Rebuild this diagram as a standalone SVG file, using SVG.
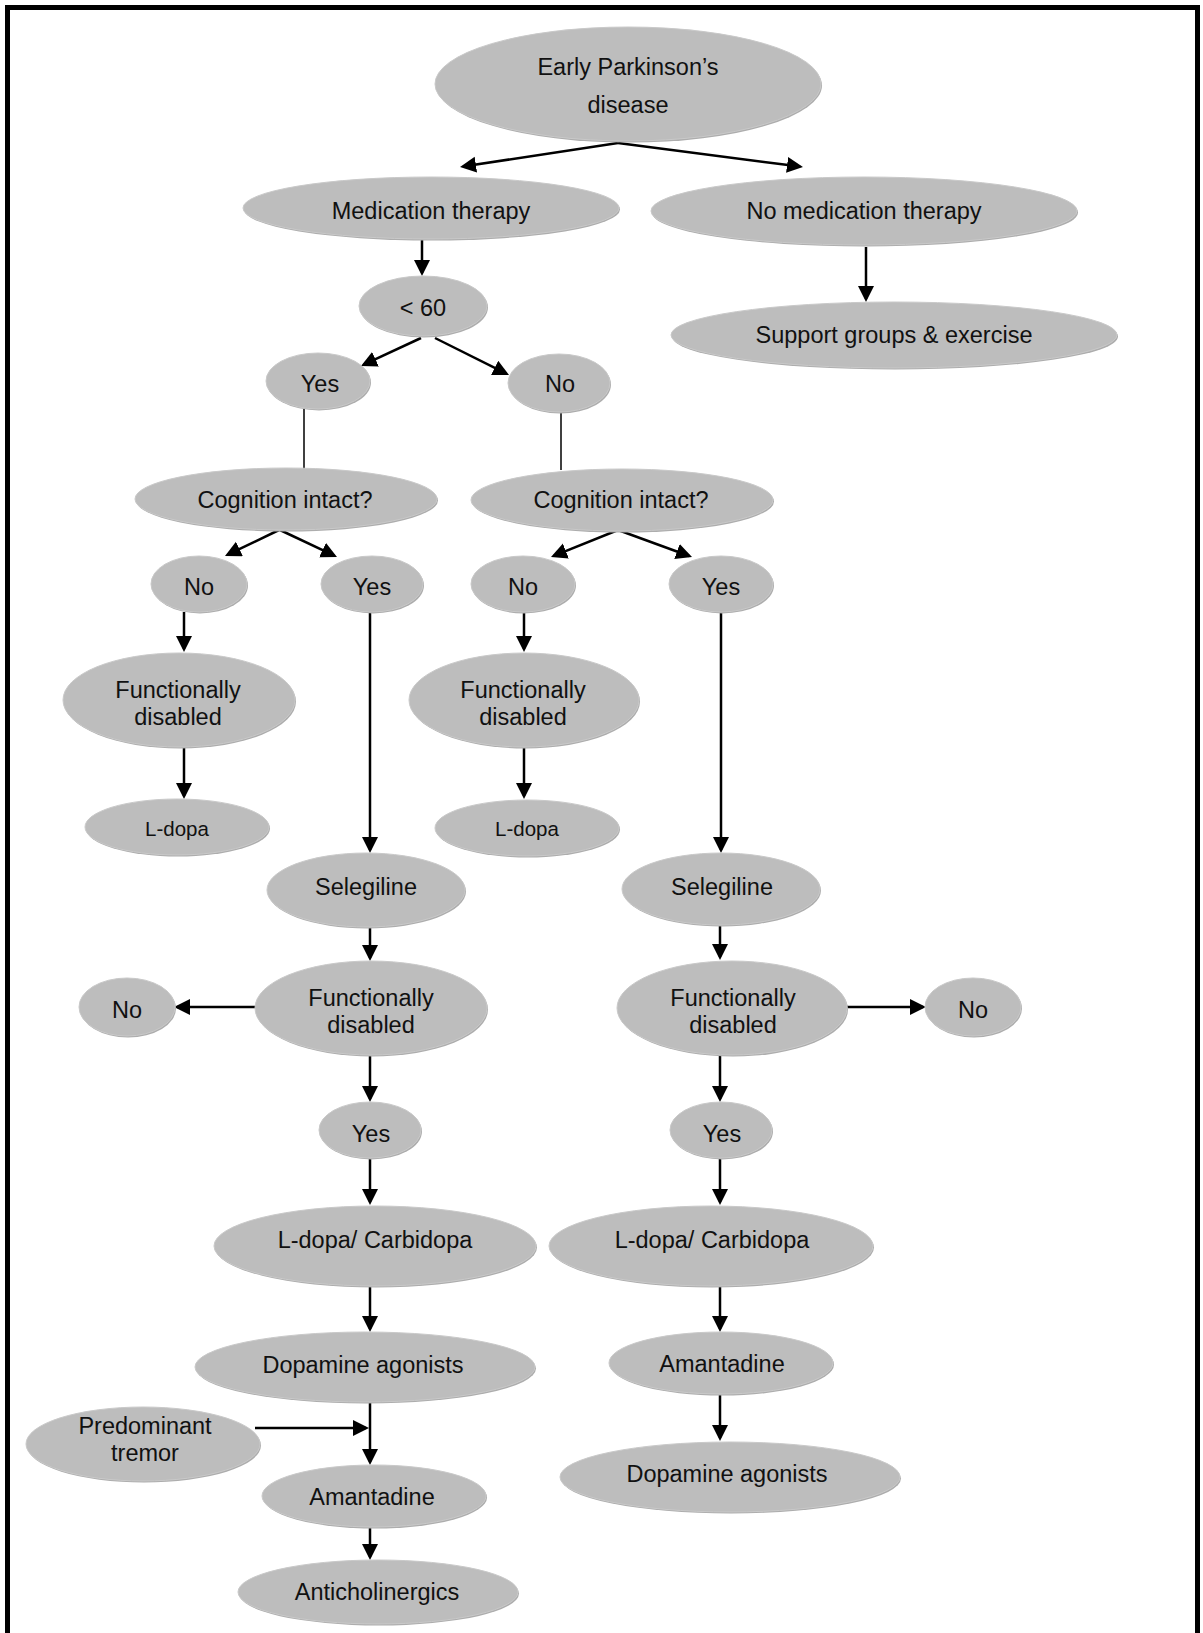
<svg xmlns="http://www.w3.org/2000/svg" width="1203" height="1633" viewBox="0 0 1203 1633">
<defs>
<style>
.sh{fill:#adadad}
.nd{fill:#bdbdbd;stroke:#c9c9c9;stroke-width:1}
text{font-family:"Liberation Sans",Arial,sans-serif;font-size:23.5px;fill:#111;text-anchor:middle}
text.sm{font-size:20.5px}
.c{fill:none;stroke:#000;stroke-width:2.5;marker-end:url(#ah)}
.t{fill:none;stroke:#000;stroke-width:1.5}
</style>
<marker id="ah" markerUnits="userSpaceOnUse" markerWidth="17" markerHeight="17" refX="13" refY="8" orient="auto">
<path d="M0,0 L16,8 L0,16 z" fill="#000"/>
</marker>
</defs>
<rect x="0" y="0" width="1203" height="1633" fill="#fff"/>
<rect x="7.5" y="7.5" width="1190" height="1650" fill="none" stroke="#000" stroke-width="5"/>

<g id="connectors">
<path class="c" d="M618,143 L463,166.5"/>
<path class="c" d="M618,143 L800,166.6"/>
<path class="c" d="M422,239 L422,273"/>
<path class="c" d="M866,247 L866,299"/>
<path class="c" d="M421,338 L363.7,364.7"/>
<path class="c" d="M435,338 L506.3,373.7"/>
<path class="t" d="M304,409 L304,469"/>
<path class="t" d="M561,412 L561,470"/>
<path class="c" d="M279,530 L227.7,554.7"/>
<path class="c" d="M280,530 L334.3,555.7"/>
<path class="c" d="M618,530 L553.8,555.9"/>
<path class="c" d="M618,530 L689.2,556"/>
<path class="c" d="M184,612 L184,649"/>
<path class="c" d="M524,612 L524,649"/>
<path class="c" d="M370,612 L370,850"/>
<path class="c" d="M721,613 L721,850"/>
<path class="c" d="M184,747 L184,796"/>
<path class="c" d="M524,747 L524,796"/>
<path class="c" d="M370,927 L370,958"/>
<path class="c" d="M720,925 L720,957"/>
<path class="c" d="M257,1007 L177,1007"/>
<path class="c" d="M847,1007 L923,1007"/>
<path class="c" d="M370,1055 L370,1099"/>
<path class="c" d="M720,1055 L720,1099"/>
<path class="c" d="M370,1158 L370,1202"/>
<path class="c" d="M720,1157 L720,1202"/>
<path class="c" d="M370,1287 L370,1329"/>
<path class="c" d="M720,1286 L720,1329"/>
<path class="c" d="M370,1402 L370,1462"/>
<path class="c" d="M720,1394 L720,1438"/>
<path class="c" d="M255,1428 L366,1428"/>
<path class="c" d="M370,1527 L370,1557"/>
</g>

<g id="n1"><ellipse class="sh" cx="629" cy="85.5" rx="193" ry="57"/><ellipse class="nd" cx="628" cy="84" rx="193" ry="57"/><text x="628" y="75">Early Parkinson’s</text><text x="628" y="113">disease</text></g>
<g id="n2"><ellipse class="sh" cx="432" cy="209.5" rx="188" ry="31"/><ellipse class="nd" cx="431" cy="208" rx="188" ry="31"/><text x="431" y="219">Medication therapy</text></g>
<g id="n3"><ellipse class="sh" cx="865" cy="212.5" rx="213" ry="34"/><ellipse class="nd" cx="864" cy="211" rx="213" ry="34"/><text x="864" y="219">No medication therapy</text></g>
<g id="n4"><ellipse class="sh" cx="895" cy="336.5" rx="223" ry="33"/><ellipse class="nd" cx="894" cy="335" rx="223" ry="33"/><text x="894" y="343">Support groups &amp; exercise</text></g>
<g id="n5"><ellipse class="sh" cx="424" cy="307.5" rx="64" ry="30"/><ellipse class="nd" cx="423" cy="306" rx="64" ry="30"/><text x="423" y="316">&lt; 60</text></g>
<g id="n6"><ellipse class="sh" cx="319" cy="382.5" rx="52" ry="28"/><ellipse class="nd" cx="318" cy="381" rx="52" ry="28"/><text x="320" y="392">Yes</text></g>
<g id="n7"><ellipse class="sh" cx="560" cy="384.5" rx="51" ry="29"/><ellipse class="nd" cx="559" cy="383" rx="51" ry="29"/><text x="560" y="392">No</text></g>
<g id="n8"><ellipse class="sh" cx="287" cy="500.5" rx="151" ry="31"/><ellipse class="nd" cx="286" cy="499" rx="151" ry="31"/><text x="285" y="508">Cognition intact?</text></g>
<g id="n9"><ellipse class="sh" cx="623" cy="501.5" rx="151" ry="31"/><ellipse class="nd" cx="622" cy="500" rx="151" ry="31"/><text x="621" y="508">Cognition intact?</text></g>
<g id="n10"><ellipse class="sh" cx="200" cy="585.5" rx="48" ry="28"/><ellipse class="nd" cx="199" cy="584" rx="48" ry="28"/><text x="199" y="595">No</text></g>
<g id="n11"><ellipse class="sh" cx="373" cy="585.5" rx="51" ry="28"/><ellipse class="nd" cx="372" cy="584" rx="51" ry="28"/><text x="372" y="595">Yes</text></g>
<g id="n12"><ellipse class="sh" cx="524" cy="585.5" rx="52" ry="28"/><ellipse class="nd" cx="523" cy="584" rx="52" ry="28"/><text x="523" y="595">No</text></g>
<g id="n13"><ellipse class="sh" cx="722" cy="585.5" rx="52" ry="28"/><ellipse class="nd" cx="721" cy="584" rx="52" ry="28"/><text x="721" y="595">Yes</text></g>
<g id="n14"><ellipse class="sh" cx="180" cy="701.5" rx="116" ry="47"/><ellipse class="nd" cx="179" cy="700" rx="116" ry="47"/><text x="178" y="698">Functionally</text><text x="178" y="725">disabled</text></g>
<g id="n15"><ellipse class="sh" cx="525" cy="701.5" rx="115" ry="47"/><ellipse class="nd" cx="524" cy="700" rx="115" ry="47"/><text x="523" y="698">Functionally</text><text x="523" y="725">disabled</text></g>
<g id="n16"><ellipse class="sh" cx="178" cy="828.5" rx="92" ry="28"/><ellipse class="nd" cx="177" cy="827" rx="92" ry="28"/><text class="sm" x="177" y="836">L-dopa</text></g>
<g id="n17"><ellipse class="sh" cx="528" cy="829.5" rx="92" ry="28"/><ellipse class="nd" cx="527" cy="828" rx="92" ry="28"/><text class="sm" x="527" y="836">L-dopa</text></g>
<g id="n18"><ellipse class="sh" cx="367" cy="891.5" rx="99" ry="37"/><ellipse class="nd" cx="366" cy="890" rx="99" ry="37"/><text x="366" y="895">Selegiline</text></g>
<g id="n19"><ellipse class="sh" cx="722" cy="890.5" rx="99" ry="36"/><ellipse class="nd" cx="721" cy="889" rx="99" ry="36"/><text x="722" y="895">Selegiline</text></g>
<g id="n20"><ellipse class="sh" cx="372" cy="1009.5" rx="116" ry="47"/><ellipse class="nd" cx="371" cy="1008" rx="116" ry="47"/><text x="371" y="1006">Functionally</text><text x="371" y="1033">disabled</text></g>
<g id="n21"><ellipse class="sh" cx="733" cy="1009.5" rx="115" ry="47"/><ellipse class="nd" cx="732" cy="1008" rx="115" ry="47"/><text x="733" y="1006">Functionally</text><text x="733" y="1033">disabled</text></g>
<g id="n22"><ellipse class="sh" cx="128" cy="1008.5" rx="48" ry="29"/><ellipse class="nd" cx="127" cy="1007" rx="48" ry="29"/><text x="127" y="1018">No</text></g>
<g id="n23"><ellipse class="sh" cx="974" cy="1008.5" rx="48" ry="29"/><ellipse class="nd" cx="973" cy="1007" rx="48" ry="29"/><text x="973" y="1018">No</text></g>
<g id="n24"><ellipse class="sh" cx="371" cy="1131.5" rx="51" ry="28"/><ellipse class="nd" cx="370" cy="1130" rx="51" ry="28"/><text x="371" y="1142">Yes</text></g>
<g id="n25"><ellipse class="sh" cx="722" cy="1131.5" rx="51" ry="28"/><ellipse class="nd" cx="721" cy="1130" rx="51" ry="28"/><text x="722" y="1142">Yes</text></g>
<g id="n26"><ellipse class="sh" cx="376" cy="1247.5" rx="161" ry="40"/><ellipse class="nd" cx="375" cy="1246" rx="161" ry="40"/><text x="375" y="1248">L-dopa/ Carbidopa</text></g>
<g id="n27"><ellipse class="sh" cx="712" cy="1247.5" rx="162" ry="40"/><ellipse class="nd" cx="711" cy="1246" rx="162" ry="40"/><text x="712" y="1248">L-dopa/ Carbidopa</text></g>
<g id="n28"><ellipse class="sh" cx="366" cy="1368.5" rx="170" ry="35"/><ellipse class="nd" cx="365" cy="1367" rx="170" ry="35"/><text x="363" y="1373">Dopamine agonists</text></g>
<g id="n29"><ellipse class="sh" cx="722" cy="1364.5" rx="112" ry="31"/><ellipse class="nd" cx="721" cy="1363" rx="112" ry="31"/><text x="722" y="1372">Amantadine</text></g>
<g id="n30"><ellipse class="sh" cx="731" cy="1478.5" rx="170" ry="35"/><ellipse class="nd" cx="730" cy="1477" rx="170" ry="35"/><text x="727" y="1482">Dopamine agonists</text></g>
<g id="n31"><ellipse class="sh" cx="144" cy="1445.5" rx="117" ry="37"/><ellipse class="nd" cx="143" cy="1444" rx="117" ry="37"/><text x="145" y="1434">Predominant</text><text x="145" y="1461">tremor</text></g>
<g id="n32"><ellipse class="sh" cx="375" cy="1497.5" rx="112" ry="31"/><ellipse class="nd" cx="374" cy="1496" rx="112" ry="31"/><text x="372" y="1505">Amantadine</text></g>
<g id="n33"><ellipse class="sh" cx="379" cy="1593.5" rx="140" ry="32"/><ellipse class="nd" cx="378" cy="1592" rx="140" ry="32"/><text x="377" y="1600">Anticholinergics</text></g>
</svg>
